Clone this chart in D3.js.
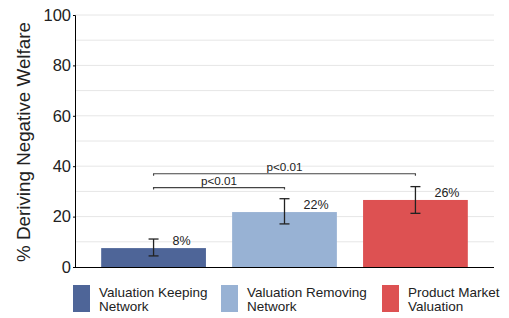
<!DOCTYPE html>
<html><head><meta charset="utf-8">
<script src="https://cdn.jsdelivr.net/npm/d3@7"></script>
<style>body{margin:0;background:#fff}svg{display:block;font-family:"Liberation Sans",Arial,sans-serif}</style>
</head><body><svg id="c" width="509" height="318"></svg>
<script>
const categories = ["Valuation Keeping Network", "Valuation Removing Network", "Product Market Valuation"];
const legendLines = [["Valuation Keeping", "Network"], ["Valuation Removing", "Network"], ["Product Market", "Valuation"]];
const values = [7.5, 21.8, 26.6];
const errLow = [4.4, 17.1, 21.3];
const errHigh = [11.1, 27.1, 31.9];
const labels = ["8%", "22%", "26%"];
const colors = ["#4e6598", "#98b2d4", "#dd5152"];
const yTicks = [0, 20, 40, 60, 80, 100];
const gridTicks = [10, 20, 30, 40, 50, 60, 70, 80, 90, 100];
const brackets = [{from: 0, to: 1, y: 31.5, text: "p<0.01"}, {from: 0, to: 2, y: 37, text: "p<0.01"}];

const svg = d3.select("#c");
const x = d3.scaleBand().domain(categories).range([75, 494]).paddingInner(0.2).paddingOuter(0.2);
const y = d3.scaleLinear().domain([0, 100]).range([267, 15]);

svg.append("g").selectAll("line").data(gridTicks).join("line")
  .attr("x1", 75).attr("x2", 494).attr("y1", d => y(d)).attr("y2", d => y(d))
  .attr("stroke", "#e6e6e6").attr("stroke-width", 1);

svg.append("g").selectAll("rect").data(values).join("rect")
  .attr("x", (d, i) => x(categories[i])).attr("width", x.bandwidth())
  .attr("y", d => y(d)).attr("height", d => y(0) - y(d))
  .attr("fill", (d, i) => colors[i]);

const yAxis = svg.append("g").attr("transform", "translate(75,0)")
  .call(d3.axisLeft(y).tickValues(yTicks).tickSize(2).tickPadding(2));
yAxis.select(".domain").attr("stroke", "#000");
yAxis.selectAll("text").attr("font-size", 16.5).attr("fill", "#222").attr("font-family", "Liberation Sans, Arial, sans-serif");
yAxis.selectAll(".tick line").attr("stroke", "#000");

svg.append("line").attr("x1", 75).attr("x2", 494).attr("y1", y(0) + 0.5).attr("y2", y(0) + 0.5).attr("stroke", "#000");

const eg = svg.append("g").attr("stroke", "#222").attr("stroke-width", 1.3);
categories.forEach((c, i) => {
  const cx = x(c) + x.bandwidth() / 2;
  eg.append("line").attr("x1", cx).attr("x2", cx).attr("y1", y(errLow[i])).attr("y2", y(errHigh[i]));
  eg.append("line").attr("x1", cx - 5).attr("x2", cx + 5).attr("y1", y(errLow[i])).attr("y2", y(errLow[i]));
  eg.append("line").attr("x1", cx - 5).attr("x2", cx + 5).attr("y1", y(errHigh[i])).attr("y2", y(errHigh[i]));
  svg.append("text").attr("x", cx + 19).attr("y", y(values[i]) - 3)
    .attr("font-size", 12.5).attr("fill", "#222").text(labels[i]);
});

brackets.forEach(b => {
  const x1 = x(categories[b.from]) + x.bandwidth() / 2;
  const x2 = x(categories[b.to]) + x.bandwidth() / 2;
  const yy = y(b.y);
  svg.append("path").attr("d", `M${x1},${yy + 2}V${yy}H${x2}V${yy + 2}`)
    .attr("fill", "none").attr("stroke", "#444").attr("stroke-width", 1.2);
  svg.append("text").attr("x", (x1 + x2) / 2).attr("y", yy - 3).attr("text-anchor", "middle")
    .attr("font-size", 11.7).attr("fill", "#222").text(b.text);
});

svg.append("text").attr("transform", "translate(30,142) rotate(-90)").attr("text-anchor", "middle")
  .attr("font-size", 18.8).attr("fill", "#222").text("% Deriving Negative Welfare");

const legX = [73, 221, 382];
categories.forEach((c, i) => {
  const g = svg.append("g").attr("transform", `translate(${legX[i]},285)`);
  g.append("rect").attr("width", 17).attr("height", 27).attr("fill", colors[i]);
  legendLines[i].forEach((t, j) => {
    g.append("text").attr("x", 26).attr("y", 12 + j * 14).attr("font-size", 13.5).attr("fill", "#222").text(t);
  });
});
</script></body></html>
